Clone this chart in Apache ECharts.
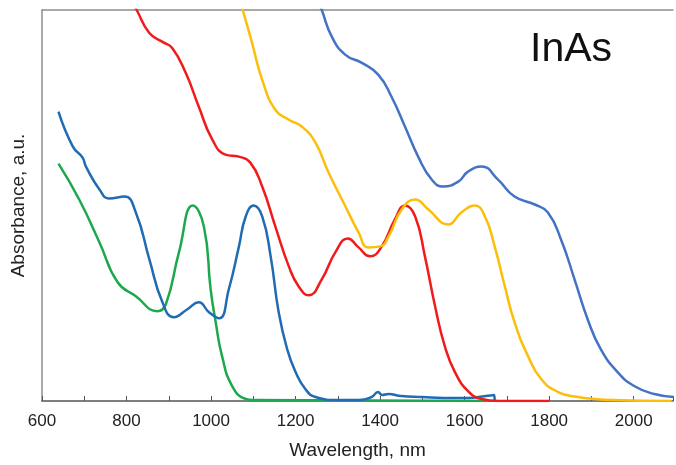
<!DOCTYPE html>
<html>
<head>
<meta charset="utf-8">
<script src="https://cdn.jsdelivr.net/npm/echarts@6/dist/echarts.min.js"></script>
<style>
  html, body { margin: 0; padding: 0; background: #fff; }
  #chart { width: 676px; height: 465px; }
</style>
</head>
<body>
<div id="chart"></div>
<script>
// wavelength (nm) / absorbance (a.u.)
const greenWl  = [639, 688, 736, 779, 822, 873, 893, 924, 957, 983, 999, 1011, 1026, 1050, 1082, 1100, 1650];
const greenAbs = [238, 202, 159, 119, 105, 90, 97, 149, 196, 175, 112, 79, 45, 15, 2, 1, 0];

const navyWl  = [639, 673, 696, 704, 736, 759, 795, 822, 854, 885, 912, 944, 971, 995, 1019, 1042, 1066, 1082, 1101, 1121, 1141, 1160, 1180, 1200, 1223, 1247, 1300, 1350, 1380, 1395, 1405, 1420, 1450, 1500, 1550, 1608, 1650, 1670, 1671];
const navyAbs = [290, 255, 244, 235, 212, 203, 205, 189, 142, 99, 84, 92, 99, 89, 83, 112, 155, 185, 196, 185, 145, 89, 52, 29, 12, 4, 1, 1, 4, 9, 6, 7, 5, 4, 3, 3, 5, 6, 0];

const redWl  = [810, 824, 854, 885, 908, 940, 971, 1003, 1034, 1066, 1093, 1121, 1152, 1184, 1207, 1231, 1262, 1294, 1324, 1349, 1376, 1404, 1435, 1459, 1483, 1506, 1530, 1553, 1577, 1608, 1640, 1680, 1800];
const redAbs = [403, 392, 369, 360, 354, 329, 295, 262, 247, 245, 239, 215, 175, 135, 115, 106, 122, 149, 163, 154, 145, 155, 182, 196, 185, 145, 95, 55, 29, 10, 2, 0, 0];

const yellowWl  = [1068, 1075, 1097, 1121, 1152, 1184, 1215, 1247, 1278, 1318, 1349, 1372, 1400, 1420, 1451, 1483, 1514, 1561, 1592, 1624, 1648, 1671, 1695, 1718, 1750, 1781, 1821, 1868, 1908, 1950, 2090];
const yellowAbs = [402, 392, 359, 322, 292, 282, 275, 259, 229, 195, 169, 154, 155, 165, 192, 202, 192, 177, 189, 196, 185, 155, 115, 79, 45, 22, 9, 4, 2, 1, 0];

const blueWl  = [1253, 1262, 1286, 1318, 1357, 1396, 1427, 1459, 1490, 1522, 1549, 1585, 1608, 1640, 1679, 1718, 1766, 1797, 1828, 1860, 1891, 1922, 1962, 2001, 2049, 2095];
const blueAbs = [402, 392, 365, 347, 339, 327, 305, 275, 245, 222, 215, 220, 230, 235, 222, 205, 197, 189, 162, 122, 82, 52, 29, 15, 7, 4];

const xTicks = [600, 800, 1000, 1200, 1400, 1600, 1800, 2000];

function pairs(xs, ys) {
    return xs.map((x, i) => [x, ys[i]]);
}

function line(name, color, xs, ys) {
    return {
        name: name,
        type: 'line',
        data: pairs(xs, ys),
        smooth: 0.5,
        showSymbol: false,
        clip: true,
        lineStyle: { color: color, width: 2.5 },
        itemStyle: { color: color }
    };
}

const chart = echarts.init(document.getElementById('chart'));

chart.setOption({
    animation: false,
    backgroundColor: '#fff',
    textStyle: { fontFamily: 'Liberation Sans, Arial, sans-serif' },
    grid: { left: 42, top: 10, right: 0, bottom: 63 },
    xAxis: [{
        type: 'value',
        min: 600,
        max: 2093,
        interval: 100,
        name: 'Wavelength, nm',
        nameLocation: 'middle',
        nameGap: 40,
        nameTextStyle: { fontSize: 19, color: '#222' },
        axisLine: { show: true, onZero: false, lineStyle: { color: '#555', width: 1.5 } },
        axisTick: { show: true, inside: true, length: 5, lineStyle: { color: '#555' } },
        axisLabel: {
            fontSize: 17,
            color: '#222',
            margin: 12,
            formatter: v => xTicks.includes(v) ? String(v) : ''
        },
        splitLine: { show: false }
    }, {
        // top frame line
        type: 'value',
        position: 'top',
        min: 600,
        max: 2093,
        axisLine: { show: true, onZero: false, lineStyle: { color: '#8c8c8c', width: 1.5 } },
        axisTick: { show: false },
        axisLabel: { show: false },
        splitLine: { show: false }
    }],
    yAxis: {
        type: 'value',
        min: 0,
        max: 392,
        name: 'Absorbance, a.u.',
        nameLocation: 'middle',
        nameGap: 14,
        nameTextStyle: { fontSize: 19, color: '#222' },
        axisLine: { show: true, lineStyle: { color: '#8c8c8c', width: 1.5 } },
        axisTick: { show: false },
        axisLabel: { show: false },
        splitLine: { show: false }
    },
    graphic: [{
        type: 'text',
        left: 530,
        top: 29,
        style: {
            text: 'InAs',
            fontSize: 41,
            fontFamily: 'Liberation Sans, Arial, sans-serif',
            fill: '#111'
        }
    }],
    series: [
        line('green', '#1ea84e', greenWl, greenAbs),
        line('navy', '#1f6cb3', navyWl, navyAbs),
        line('red', '#f01b1b', redWl, redAbs),
        line('yellow', '#fbbf0a', yellowWl, yellowAbs),
        line('blue', '#4472c4', blueWl, blueAbs)
    ]
});
</script>
</body>
</html>
